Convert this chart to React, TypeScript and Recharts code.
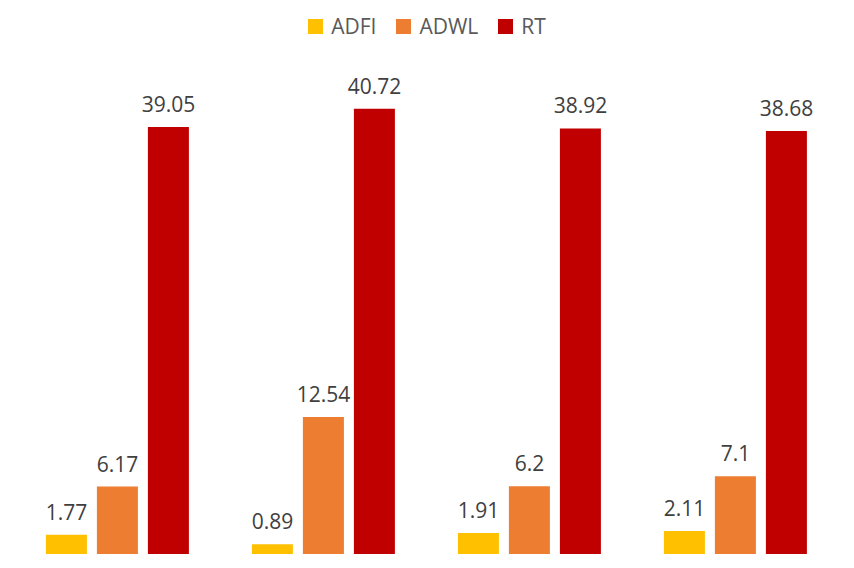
import { Bar, BarChart, LabelList, Legend, XAxis, YAxis } from "recharts";

const groups = ["G1", "G2", "G3", "G4"];
const adfi = [1.77, 0.89, 1.91, 2.11];
const adwl = [6.17, 12.54, 6.2, 7.1];
const rt = [39.05, 40.72, 38.92, 38.68];

const series = [
  { key: "ADFI", color: "#FFC000" },
  { key: "ADWL", color: "#ED7D31" },
  { key: "RT", color: "#C00000" },
];

const data = groups.map((name, i) => ({
  name,
  ADFI: adfi[i],
  ADWL: adwl[i],
  RT: rt[i],
}));

const FONT = "'Open Sans', 'Noto Sans', sans-serif";

function LegendContent() {
  return (
    <div
      style={{
        display: "flex",
        justifyContent: "center",
        alignItems: "center",
        fontFamily: FONT,
        fontSize: 21,
        color: "#595959",
      }}
    >
      {series.map((s) => (
        <div key={s.key} style={{ display: "flex", alignItems: "center", margin: "0 10px" }}>
          <span
            style={{
              display: "inline-block",
              width: 15,
              height: 15,
              background: s.color,
              marginRight: 8,
            }}
          />
          <span>{s.key}</span>
        </div>
      ))}
    </div>
  );
}

export default function App() {
  return (
    <div style={{ position: "absolute", left: 0, top: 0, background: "#fff" }}>
      <BarChart
        data={data}
        height={568}
        width={854}
        margin={{ top: 62, right: 15, left: 15, bottom: 14 }}
        barCategoryGap="15%"
        barGap={10}
      >
        <XAxis dataKey="name" hide />
        <YAxis domain={[0, 45]} hide />
        <Legend
          content={<LegendContent />}
          verticalAlign="middle"
          align="center"
          layout="horizontal"
          wrapperStyle={{ top: 12, left: 0, width: 854 }}
        />
        {series.map((s) => (
          <Bar key={s.key} dataKey={s.key} fill={s.color} isAnimationActive={false}>
            <LabelList
              dataKey={s.key}
              position="top"
              offset={15}
              fill="#404040"
              fontSize={21}
              fontFamily={FONT}
            />
          </Bar>
        ))}
      </BarChart>
    </div>
  );
}
